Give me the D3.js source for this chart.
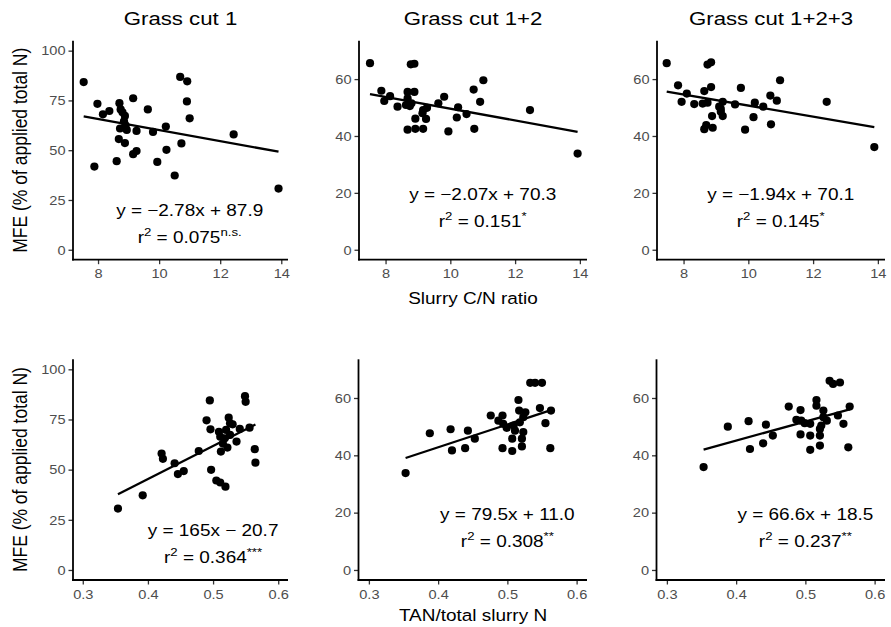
<!DOCTYPE html>
<html><head><meta charset="utf-8">
<script src="https://cdn.jsdelivr.net/npm/d3@7"></script>
<style>body{margin:0;background:#fff}svg{display:block}text{font-family:"Liberation Sans",Arial,sans-serif}</style>
</head><body>
<svg id="c" width="891" height="627"></svg>
<script>
// ---- data ----
const titles = ["Grass cut 1", "Grass cut 1+2", "Grass cut 1+2+3"];
const xTitles = ["Slurry C/N ratio", "TAN/total slurry N"];
const yTitle = "MFE (% of applied total N)";
const cnTicks = [8, 10, 12, 14];
const tanTicks = [0.3, 0.4, 0.5, 0.6];
const mfeTicks100 = [0, 25, 50, 75, 100];
const mfeTicks60 = [0, 20, 40, 60];

const cut1CnX = [7.53,10.69,10.92,10.91,11.0,12.44,13.91,7.98,9.15,8.70,8.37,8.16,8.74,9.63,8.88,8.85,8.72,8.94,9.26,9.80,10.22,8.68,8.88,10.73,10.24,9.26,9.15,8.61,7.88,9.94,10.51,8.90,8.80];
const cut1CnY = [84.2,86.8,84.6,74.5,66.0,57.9,30.7,73.3,76.1,73.6,69.7,68.0,70.5,70.5,67.2,64.5,60.9,60.2,59.7,59.2,61.9,55.6,53.6,53.4,50.2,49.6,48.0,44.5,41.8,44.1,37.3,62.5,69.0];
const cut12CnX = [7.52,8.78,8.89,11.02,10.72,10.92,12.46,13.93,7.87,7.96,8.14,8.37,8.68,8.89,8.68,8.63,8.75,9.16,9.28,8.92,9.25,8.68,8.92,9.16,9.81,9.63,10.24,10.20,10.50,9.94,10.74,9.14,8.80];
const cut12CnY = [65.6,65.2,65.4,59.6,56.3,52.0,49.1,33.8,55.9,52.3,54.0,50.3,55.5,55.5,53.2,50.9,50.5,49.1,49.9,46.1,46.0,42.2,42.5,42.5,53.8,51.5,50.1,46.5,47.7,41.6,42.5,48.0,51.5];
const cut123CnX = [7.48,8.74,8.85,10.98,9.77,7.83,8.10,7.94,8.33,8.64,8.85,8.59,8.74,9.21,9.10,9.15,8.88,9.21,8.64,8.90,9.59,10.20,10.46,10.16,9.90,10.70,10.68,10.88,12.42,13.89,9.15,8.70];
const cut123CnY = [65.6,65.1,65.9,59.6,56.9,57.8,54.9,52.0,51.2,55.8,57.2,51.4,51.7,52.0,50.3,48.5,47.0,47.0,42.4,42.9,51.1,51.7,50.3,46.6,42.2,44.1,54.2,52.4,52.0,36.1,49.5,43.8];

const cut1TanX = [0.354,0.392,0.421,0.423,0.441,0.446,0.455,0.478,0.495,0.490,0.496,0.497,0.505,0.511,0.519,0.509,0.511,0.512,0.522,0.524,0.526,0.530,0.520,0.526,0.518,0.536,0.541,0.556,0.549,0.550,0.564,0.565,0.515];
const cut1TanY = [30.6,37.2,58.0,55.4,53.2,47.8,49.3,59.3,84.5,74.6,70.1,49.9,44.6,43.6,41.5,68.9,66.4,59.0,61.0,75.9,73.1,72.6,69.8,67.3,65.6,64.0,70.3,70.9,86.6,83.8,60.2,53.5,63.0];
const cut12TanX = [0.353,0.388,0.418,0.420,0.443,0.439,0.453,0.476,0.493,0.487,0.494,0.499,0.493,0.507,0.521,0.516,0.533,0.540,0.550,0.517,0.526,0.547,0.563,0.555,0.562,0.509,0.511,0.507,0.521,0.523,0.523,0.518];
const cut12TanY = [33.8,47.7,49.1,41.7,48.6,42.5,45.8,53.9,53.9,52.1,51.0,49.6,42.5,41.5,43.1,59.3,65.3,65.3,65.3,55.6,55.0,56.5,55.6,51.2,42.5,50.4,48.6,45.8,45.8,48.1,53.3,51.5];
const cut123TanX = [0.353,0.388,0.418,0.420,0.443,0.439,0.453,0.476,0.493,0.487,0.494,0.499,0.493,0.507,0.521,0.516,0.516,0.535,0.540,0.550,0.564,0.547,0.555,0.562,0.507,0.507,0.521,0.523,0.526,0.526,0.531,0.521];
const cut123TanY = [35.9,50.0,51.9,42.2,50.7,44.2,46.9,57.0,55.8,52.4,52.1,51.2,47.3,41.9,43.4,59.3,57.3,66.0,64.9,65.4,57.0,53.9,51.0,42.8,46.9,51.0,46.9,50.4,53.3,55.6,52.1,49.2];

const slopes = [-2.78, -2.07, -1.94, 165, 79.5, 66.6];
const intercepts = [87.9, 70.3, 70.1, -20.7, 11.0, 18.5];
const eqLabels = ["y = \u22122.78x + 87.9", "y = \u22122.07x + 70.3", "y = \u22121.94x + 70.1",
                  "y = 165x \u2212 20.7", "y = 79.5x + 11.0", "y = 66.6x + 18.5"];
const r2Values = ["0.075", "0.151", "0.145", "0.364", "0.308", "0.237"];
const r2Signif = ["n.s.", "*", "*", "***", "**", "**"];

// ---- layout ----
const FONT = '"Liberation Sans",Arial,sans-serif';
const colL = [[73, 288], [359, 587], [657, 885]];
const colLb = [[73, 288], [358.5, 587], [656.5, 885]];
const rowT = [[40.7, 259.7], [359.3, 580]];
const panels = [
  {xs: cut1CnX, ys: cut1CnY, row: 0, col: 0},
  {xs: cut12CnX, ys: cut12CnY, row: 0, col: 1},
  {xs: cut123CnX, ys: cut123CnY, row: 0, col: 2},
  {xs: cut1TanX, ys: cut1TanY, row: 1, col: 0},
  {xs: cut12TanX, ys: cut12TanY, row: 1, col: 1},
  {xs: cut123TanX, ys: cut123TanY, row: 1, col: 2}
];

const svg = d3.select("#c");
function stext(g, x, y, str, size, sx, anchor, fill) {
  return g.append("text")
    .attr("transform", `translate(${x},${y}) scale(${sx},1)`)
    .attr("text-anchor", anchor).attr("font-size", size)
    .attr("fill", fill || "#000").text(str);
}

panels.forEach((p, i) => {
  const cx = p.row === 0 ? colL[p.col] : colLb[p.col];
  const [top, bot] = rowT[p.row];
  const xDom = p.row === 0 ? [7.18, 14.22] : [0.285, 0.615];
  const yDom = p.col === 0 ? [-5, 105] : [-3.5, 73.5];
  const x = d3.scaleLinear().domain(xDom).range(cx);
  const y = d3.scaleLinear().domain(yDom).range([bot, top]);
  const g = svg.append("g");

  // axes
  const xAx = d3.axisBottom(x).tickValues(p.row === 0 ? cnTicks : tanTicks)
    .tickSize(4.5).tickPadding(2).tickFormat(p.row === 0 ? d3.format("d") : d3.format(".1f"));
  const yAx = d3.axisLeft(y).tickValues(p.col === 0 ? mfeTicks100 : mfeTicks60)
    .tickSize(4.5).tickPadding(3).tickFormat(d3.format("d"));
  const gx = g.append("g").attr("transform", `translate(0,${bot})`).call(xAx);
  const gy = g.append("g").attr("transform", `translate(${cx[0]},0)`).call(yAx);
  [gx, gy].forEach(a => {
    a.select(".domain").remove();
    a.selectAll(".tick line").attr("stroke", "#333").attr("stroke-width", 1.3);
    a.selectAll(".tick text").attr("fill", "#4d4d4d").attr("font-size", 13.5)
      .attr("font-family", FONT);
  });
  gx.selectAll(".tick text").attr("transform", "scale(1.08,1)").attr("dy", "0.9em");
  gy.selectAll(".tick text").each(function() {
    const t = d3.select(this);
    t.attr("transform", "scale(1.08,1)").attr("x", +t.attr("x") / 1.08);
  });
  g.append("line").attr("x1", cx[0]).attr("x2", cx[0]).attr("y1", top).attr("y2", bot + 0.9)
    .attr("stroke", "#000").attr("stroke-width", 1.8);
  g.append("line").attr("x1", cx[0] - 0.9).attr("x2", cx[1]).attr("y1", bot).attr("y2", bot)
    .attr("stroke", "#000").attr("stroke-width", 1.8);

  // points
  g.append("g").selectAll("circle").data(p.xs.map((v, k) => [v, p.ys[k]])).join("circle")
    .attr("cx", d => x(d[0])).attr("cy", d => y(d[1])).attr("r", 4.1).attr("fill", "#000");

  // regression line
  const ext = d3.extent(p.xs);
  const line = d3.line().x(d => x(d)).y(d => y(slopes[i] * d + intercepts[i]));
  g.append("path").attr("d", line(ext)).attr("stroke", "#000").attr("stroke-width", 2.3).attr("fill", "none");

  // annotation
  const ax = p.row === 0 ? x(11) : x(0.5);
  const ay = p.col === 0 ? y(20) : y(19.7);
  stext(g, ax, ay + 6, eqLabels[i], 16.5, 1.15, "middle");
  const t = g.append("text")
    .attr("transform", `translate(${ax},${ay + 33}) scale(1.15,1)`)
    .attr("text-anchor", "middle").attr("font-size", 16.5).attr("fill", "#000");
  t.append("tspan").text("r");
  t.append("tspan").attr("font-size", 11.5).attr("dy", -7).text("2");
  t.append("tspan").attr("dy", 7).text(" = " + r2Values[i]);
  t.append("tspan").attr("font-size", 11.5).attr("dy", -7).text(r2Signif[i]);

  // panel title
  if (p.row === 0) stext(svg, (cx[0] + cx[1]) / 2, 25, titles[p.col], 18.5, 1.2, "middle");
});

// axis titles
stext(svg, 473, 304, xTitles[0], 16.5, 1.15, "middle");
stext(svg, 473, 621, xTitles[1], 16.5, 1.15, "middle");
[150.2, 469.6].forEach(cy => {
  svg.append("text")
    .attr("transform", `translate(27,${cy}) rotate(-90) scale(1,1.12)`)
    .attr("text-anchor", "middle").attr("font-size", 17.5).attr("fill", "#000").text(yTitle);
});
</script>
</body></html>
